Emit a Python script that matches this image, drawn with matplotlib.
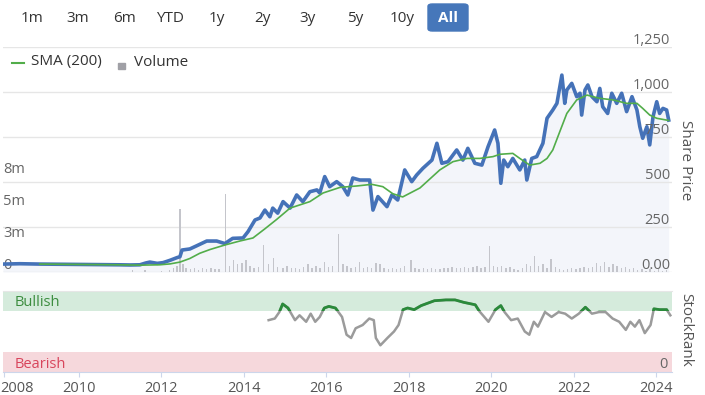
import matplotlib
matplotlib.use("Agg")
import matplotlib.pyplot as plt
from matplotlib.patches import Rectangle, FancyBboxPatch
from matplotlib.lines import Line2D
import matplotlib.transforms as mtransforms

plt.rcParams['font.family'] = ['Open Sans', 'DejaVu Sans']

# ---------------- data ----------------
price_dates = [2008.16, 2008.57, 2009.05, 2009.54, 2010.02, 2010.51, 2010.99, 2011.24, 2011.48, 2011.62,
               2011.72, 2011.90, 2012.04, 2012.21, 2012.38, 2012.45, 2012.50, 2012.69, 2012.85, 2013.10,
               2013.34, 2013.54, 2013.73, 2013.98, 2014.10, 2014.27, 2014.39, 2014.51, 2014.63, 2014.70,
               2014.82, 2014.95, 2015.12, 2015.28, 2015.43, 2015.60, 2015.77, 2015.84, 2015.96, 2016.08,
               2016.25, 2016.40, 2016.52, 2016.64, 2016.81, 2017.05, 2017.13, 2017.25, 2017.47, 2017.59,
               2017.73, 2017.90, 2018.07, 2018.19, 2018.34, 2018.56, 2018.68, 2018.80, 2018.95, 2019.16,
               2019.31, 2019.43, 2019.60, 2019.77, 2019.92, 2020.08, 2020.16, 2020.23, 2020.30, 2020.40,
               2020.52, 2020.69, 2020.81, 2020.86, 2020.98, 2021.10, 2021.25, 2021.35, 2021.49, 2021.59,
               2021.71, 2021.78, 2021.83, 2021.95, 2022.07, 2022.15, 2022.19, 2022.27, 2022.34, 2022.44,
               2022.56, 2022.63, 2022.70, 2022.82, 2022.92, 2023.04, 2023.16, 2023.28, 2023.41, 2023.53,
               2023.60, 2023.67, 2023.77, 2023.84, 2023.92, 2024.01, 2024.08, 2024.16, 2024.25, 2024.30]
price_values = [44, 46, 44, 43, 42, 41, 40, 39, 40, 50,
                55, 48, 52, 65, 80, 85, 122, 128, 145, 172,
                172, 158, 187, 189, 224, 289, 300, 344, 307, 355,
                327, 391, 355, 428, 391, 446, 456, 439, 530, 474,
                502, 474, 428, 522, 511, 511, 344, 419, 363, 428,
                400, 567, 502, 539, 576, 622, 715, 604, 613, 678,
                622, 687, 604, 594, 696, 789, 715, 493, 622, 585,
                631, 567, 622, 511, 631, 641, 715, 854, 900, 937,
                1094, 937, 1011, 1048, 974, 993, 872, 1011, 1039, 974,
                946, 1020, 918, 881, 993, 937, 993, 891, 974, 900,
                807, 743, 807, 706, 863, 946, 881, 909, 900, 844]

sma_dates = [2009.05, 2010.02, 2010.99, 2011.48, 2011.96, 2012.21, 2012.45, 2012.69, 2012.93, 2013.18,
             2013.54, 2013.90, 2014.22, 2014.51, 2014.80, 2015.12, 2015.60, 2015.92, 2016.33, 2016.74,
             2017.10, 2017.37, 2017.61, 2017.85, 2018.27, 2018.75, 2019.07, 2019.41, 2019.72, 2020.04,
             2020.21, 2020.52, 2020.69, 2020.93, 2021.18, 2021.35, 2021.49, 2021.66, 2021.83, 2022.07,
             2022.32, 2022.46, 2022.63, 2022.95, 2023.28, 2023.53, 2023.67, 2023.84, 2024.01, 2024.25,
             2024.30]
sma_values = [44, 42, 40, 38, 40, 45, 55, 75, 104, 125,
              150, 172, 189, 240, 293, 355, 391, 439, 470, 478,
              487, 474, 435, 417, 467, 567, 613, 631, 631, 641,
              654, 659, 631, 594, 604, 631, 678, 780, 881, 956,
              983, 974, 965, 956, 937, 937, 909, 872, 854, 844,
              842]

vol_dates = [2011.30, 2011.60, 2012.00, 2012.20, 2012.30, 2012.38, 2012.45, 2012.52, 2012.60, 2012.70,
             2012.80, 2012.90, 2013.00, 2013.10, 2013.20, 2013.30, 2013.40, 2013.55, 2013.65, 2013.75,
             2013.85, 2013.95, 2014.05, 2014.15, 2014.25, 2014.35, 2014.48, 2014.60, 2014.72, 2014.82,
             2014.95, 2015.05, 2015.15, 2015.25, 2015.35, 2015.45, 2015.55, 2015.65, 2015.75, 2015.85,
             2015.95, 2016.05, 2016.15, 2016.30, 2016.40, 2016.50, 2016.60, 2016.70, 2016.80, 2016.90,
             2017.00, 2017.10, 2017.20, 2017.30, 2017.40, 2017.50, 2017.60, 2017.70, 2017.80, 2017.90,
             2018.05, 2018.15, 2018.25, 2018.35, 2018.45, 2018.55, 2018.65, 2018.75, 2018.85, 2018.95,
             2019.05, 2019.15, 2019.25, 2019.35, 2019.45, 2019.55, 2019.65, 2019.75, 2019.85, 2019.95,
             2020.05, 2020.15, 2020.25, 2020.35, 2020.45, 2020.55, 2020.65, 2020.75, 2020.85, 2020.95,
             2021.05, 2021.15, 2021.25, 2021.35, 2021.45, 2021.55, 2021.65, 2021.75, 2021.85, 2021.95,
             2022.05, 2022.15, 2022.25, 2022.35, 2022.45, 2022.55, 2022.65, 2022.75, 2022.85, 2022.95,
             2023.05, 2023.15, 2023.25, 2023.35, 2023.45, 2023.55, 2023.65, 2023.75, 2023.85, 2023.95,
             2024.05, 2024.15, 2024.25]
vol_values = [0.12, 0.12, 0.10, 0.15, 0.30, 0.50, 4.90, 0.60, 0.35, 0.20,
              0.30, 0.15, 0.30, 0.25, 0.30, 0.20, 0.25, 6.10, 0.50, 0.90,
              0.60, 0.70, 0.90, 0.50, 0.30, 0.40, 2.10, 0.60, 1.10, 0.40,
              0.30, 0.50, 0.30, 0.35, 0.20, 0.40, 0.60, 0.30, 0.50, 0.30,
              0.80, 0.40, 0.50, 3.00, 0.60, 0.50, 0.30, 0.40, 0.80, 0.30,
              0.40, 0.30, 0.70, 0.60, 0.30, 0.20, 0.30, 0.20, 0.30, 0.50,
              0.90, 0.30, 0.20, 0.30, 0.20, 0.30, 0.25, 0.20, 0.30, 0.30,
              0.40, 0.30, 0.35, 0.40, 0.30, 0.40, 0.50, 0.30, 0.40, 2.00,
              0.50, 0.40, 0.45, 0.30, 0.40, 0.20, 0.15, 0.30, 0.60, 0.50,
              1.25, 0.50, 0.60, 0.30, 1.00, 0.40, 0.20, 0.15, 0.20, 0.30,
              0.25, 0.35, 0.40, 0.30, 0.40, 0.70, 0.50, 0.80, 0.40, 0.60,
              0.50, 0.30, 0.40, 0.20, 0.35, 0.15, 0.20, 0.10, 0.25, 0.10,
              0.20, 0.10, 0.15]

rank_dates = [2014.60, 2014.75, 2014.86, 2014.94, 2015.07, 2015.24, 2015.35, 2015.51, 2015.62, 2015.73,
              2015.84, 2015.95, 2016.06, 2016.22, 2016.38, 2016.49, 2016.60, 2016.71, 2016.88, 2017.04,
              2017.15, 2017.20, 2017.31, 2017.48, 2017.64, 2017.75, 2017.86, 2017.97, 2018.13, 2018.30,
              2018.46, 2018.62, 2018.90, 2019.12, 2019.33, 2019.61, 2019.71, 2019.93, 2020.10, 2020.23,
              2020.32, 2020.48, 2020.64, 2020.81, 2020.92, 2021.03, 2021.13, 2021.30, 2021.46, 2021.63,
              2021.79, 2021.95, 2022.12, 2022.28, 2022.44, 2022.61, 2022.77, 2022.94, 2023.10, 2023.26,
              2023.37, 2023.48, 2023.59, 2023.72, 2023.86, 2023.94, 2024.08, 2024.25, 2024.34]
rank_values = [64, 66, 74, 84, 79, 64, 70, 62, 72, 62,
               68, 79, 81, 79, 68, 46, 42, 54, 58, 66,
               64, 42, 33, 42, 50, 58, 77, 79, 77, 82,
               85, 88, 89, 89, 86, 83, 75, 62, 77, 82,
               74, 64, 66, 50, 46, 62, 56, 74, 68, 74,
               72, 66, 72, 80, 72, 74, 74, 66, 62, 52,
               62, 56, 64, 48, 58, 78, 77, 77, 70]

price_ticks = [0, 250, 500, 750, 1000, 1250]
price_tick_labels = ['0.00', '250', '500', '750', '1,000', '1,250']
vol_ticks = [0, 2.5, 5, 7.5]
vol_tick_labels = ['0', '3m', '5m', '8m']
year_ticks = [2010, 2012, 2014, 2016, 2018, 2020, 2022, 2024]
year_labels = ['2010', '2012', '2014', '2016', '2018', '2020', '2022', '2024']
range_buttons = ['1m', '3m', '6m', 'YTD', '1y', '2y', '3y', '5y', '10y', 'All']

# ---------------- layout ----------------
W, H = 705, 395
fig = plt.figure(figsize=(W / 100, H / 100), dpi=100)


def ax_rect(x0, y0, x1, y1):
    return [x0 / W, 1 - y1 / H, (x1 - x0) / W, (y1 - y0) / H]


def fx(x):
    return x / W


def fy(y):
    return 1 - y / H


XMIN, XMAX = 2008.16, 2024.38
BLUE = '#4572b8'
GREEN = '#52ad4a'
TXT = '#666666'
FS = 10.5

# main price panel (fill only)
ax = fig.add_axes(ax_rect(3, 47, 672, 272))
ax.set_xlim(XMIN, XMAX)
ax.set_ylim(0, 1250)
ax.set_yticks(price_ticks)
ax.yaxis.grid(True, color='#e6e6e6', lw=1)
ax.set_xticks([])
for s in ax.spines.values():
    s.set_visible(False)
ax.fill_between(price_dates, price_values, 0, color='#f3f5fa', lw=0, zorder=1)

# volume
axv = ax.twinx()
axv.set_ylim(0, 17.58)
axv.set_xlim(XMIN, XMAX)
axv.bar(vol_dates, vol_values, width=0.035, color='#c4c5cb', lw=0)
axv.set_yticks([])
for s in axv.spines.values():
    s.set_visible(False)
for v, lab in zip(vol_ticks, vol_tick_labels):
    axv.annotate(lab, xy=(0, v), xycoords=('axes fraction', 'data'), xytext=(0, 5),
                 textcoords='offset points', ha='left', va='center', color=TXT,
                 fontsize=FS, annotation_clip=False)

# price lines
axl = ax.twinx()
axl.set_ylim(0, 1250)
axl.set_xlim(XMIN, XMAX)
axl.set_yticks([])
for s in axl.spines.values():
    s.set_visible(False)
axl.plot(price_dates, price_values, color=BLUE, lw=2.6, solid_joinstyle='round')
axl.plot(sma_dates, sma_values, color=GREEN, lw=1.2)
for v, lab in zip(price_ticks, price_tick_labels):
    axl.annotate(lab, xy=(1, v), xycoords=('axes fraction', 'data'), xytext=(-1.5, 5),
                 textcoords='offset points', ha='right', va='center', color=TXT,
                 fontsize=FS, annotation_clip=False)
# twinx re-enables left ticks on the host axes: switch them off now
ax.tick_params(axis='y', left=False, right=False, labelleft=False, labelright=False)
for a in (axv, axl):
    a.tick_params(axis='both', left=False, right=False, bottom=False, top=False,
                  labelleft=False, labelright=False, labelbottom=False)

fig.text(fx(686), fy(160), 'Share Price', rotation=270, ha='center', va='center',
         color='#555555', fontsize=11)

# StockRank panel
axr = fig.add_axes(ax_rect(3, 291, 672, 372))
axr.set_xlim(XMIN, XMAX)
axr.set_ylim(0, 100)
axr.axhspan(75, 100, color='#d5ebdc', lw=0)
axr.axhspan(0, 25, color='#f6d8dc', lw=0)
axr.plot(rank_dates, rank_values, color='#9b9b9b', lw=1.8)
gl, = axr.plot(rank_dates, rank_values, color='#2a8a3a', lw=2.0)
clip = Rectangle((XMIN, 75), XMAX - XMIN, 30, transform=axr.transData, visible=False)
axr.add_patch(clip)
gl.set_clip_path(clip)
axr.set_yticks([])
for k in ['left', 'right']:
    axr.spines[k].set_visible(False)
axr.spines['top'].set_color('#e6e6e6')
axr.spines['bottom'].set_color('#ccd6eb')
axr.set_xticks([XMIN + 0.02] + year_ticks)
axr.set_xticklabels(['2008'] + year_labels)
axr.tick_params(axis='x', length=3.6, color='#ccd6eb', labelsize=FS, labelcolor='#555555', pad=3)
lab0 = axr.get_xticklabels()[0]
lab0.set_ha('left')
lab0.set_transform(lab0.get_transform() + mtransforms.ScaledTranslation(-4 / 100, 0, fig.dpi_scale_trans))

fig.text(fx(15), fy(303), 'Bullish', ha='left', va='center', color='#3b8c3e', fontsize=FS)
fig.text(fx(15), fy(364), 'Bearish', ha='left', va='center', color='#d8455c', fontsize=FS)
fig.text(fx(668), fy(364), '0', ha='right', va='center', color=TXT, fontsize=FS)
fig.text(fx(686), fy(330), 'StockRank', rotation=270, ha='center', va='center',
         color='#555555', fontsize=11)

# legend
fig.add_artist(Line2D([fx(12), fx(24)], [fy(62.5), fy(62.5)], color=GREEN, lw=1.5,
                      transform=fig.transFigure))
fig.text(fx(31), fy(62), 'SMA (200)', ha='left', va='center', color='#333333', fontsize=11)
fig.add_artist(Rectangle((fx(118), fy(69)), 7 / W, 6 / H, color='#a0a0a6',
                         transform=fig.transFigure))
fig.text(fx(134), fy(62), 'Volume', ha='left', va='center', color='#333333', fontsize=11)

# range buttons
btn_x = [32, 78, 124, 170, 217, 262, 308, 355, 402, 448]
fig.add_artist(FancyBboxPatch((fx(428), fy(31)), 40 / W, 27 / H,
                              boxstyle='round,pad=0,rounding_size=0.006',
                              color='#4677ba', transform=fig.transFigure))
for x, lab in zip(btn_x, range_buttons):
    if lab == 'All':
        fig.text(fx(x), fy(18), lab, ha='center', va='center', color='white',
                 fontsize=11, fontweight='bold')
    else:
        fig.text(fx(x), fy(18), lab, ha='center', va='center', color='#333333', fontsize=11)

fig.savefig('out.png', dpi=100)
